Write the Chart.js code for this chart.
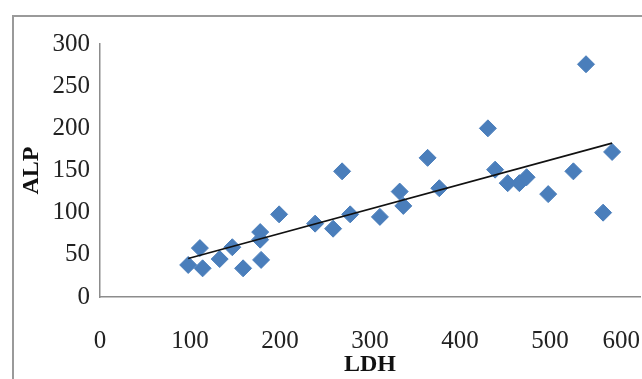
<!DOCTYPE html>
<html>
<head>
<meta charset="utf-8">
<script src="https://cdn.jsdelivr.net/npm/chart.js@4"></script>
<style>
  html, body { margin: 0; padding: 0; background: #fff; }
  #wrap { width: 642px; height: 379px; }
</style>
</head>
<body>
<div id="wrap"><canvas id="graph-ldh-alp" width="642" height="379"></canvas></div>
<script>
const ldh = [98, 111, 114, 133, 147, 159, 178, 178, 179, 199, 239, 259, 269, 278,
             311, 333, 337, 364, 377, 431, 439, 453, 466, 474, 498, 526, 540, 559, 569];
const alp = [38, 58, 34, 45, 59, 34, 77, 68, 44, 98, 87, 81, 149, 98,
             95, 125, 108, 165, 129, 200, 151, 135, 135, 142, 122, 149, 276, 100, 172];
const xTicks = [0, 100, 200, 300, 400, 500, 600];
const yTicks = [0, 50, 100, 150, 200, 250, 300];

const points = ldh.map((x, i) => ({ x: x, y: alp[i] }));

// droite des moindres carrés (courbe de tendance)
const n = ldh.length;
const mx = ldh.reduce((a, b) => a + b, 0) / n;
const my = alp.reduce((a, b) => a + b, 0) / n;
let sxy = 0, sxx = 0;
ldh.forEach((x, i) => { sxy += (x - mx) * (alp[i] - my); sxx += (x - mx) * (x - mx); });
const slope = sxy / sxx;
const icpt = my - slope * mx;
const xMin = Math.min(...ldh), xMax = Math.max(...ldh);
const trend = [{ x: xMin, y: icpt + slope * xMin }, { x: xMax, y: icpt + slope * xMax }];

const frame = {
    id: 'frame',
    beforeDraw(chart) {
        const ctx = chart.ctx;
        ctx.save();
        ctx.strokeStyle = '#9a9a9a';
        ctx.lineWidth = 2;
        ctx.strokeRect(13, 16, 700, 500);
        ctx.restore();
        // dernier libellé (600) calé sur le bord droit, comme Excel
        const items = chart.scales.x.getLabelItems();
        const last = items[items.length - 1];
        if (last && last.options.textAlign !== 'right') {
            last.options.textAlign = 'right';
            last.options.translation[0] = chart.chartArea.right;
        }
    }
};

const serif = "'Liberation Serif', 'Times New Roman', serif";

new Chart(document.getElementById('graph-ldh-alp').getContext('2d'), {
    type: 'scatter',
    data: {
        datasets: [{
            label: 'ALP',
            data: points,
            pointStyle: 'rectRot',
            pointRadius: 8.5,
            backgroundColor: '#4a7ebb',
            borderColor: '#4a7ebb',
            borderWidth: 1,
            order: 2
        }, {
            type: 'line',
            label: 'Tendance',
            data: trend,
            borderColor: '#111',
            borderWidth: 1.6,
            pointRadius: 0,
            fill: false,
            order: 1
        }]
    },
    options: {
        responsive: false,
        animation: false,
        events: [],
        layout: { autoPadding: false, padding: { left: 0, top: 44, right: 2, bottom: 0 } },
        plugins: {
            legend: { display: false },
            tooltip: { enabled: false }
        },
        scales: {
            x: {
                type: 'linear',
                min: 0,
                max: 600,
                afterBuildTicks: (s) => { s.ticks = xTicks.map(v => ({ value: v })); },
                grid: { display: false, drawTicks: false },
                border: { display: true, color: '#8c8c8c', width: 1.5 },
                ticks: { padding: 29, color: '#222', font: { family: serif, size: 25 } },
                title: {
                    display: true, text: 'LDH', color: '#111',
                    font: { family: serif, size: 24, weight: 'bold' },
                    padding: { top: 0, bottom: 0 }
                },
                afterFit: (s) => { s.height = 82; s.paddingRight = 0; s.paddingLeft = 0; }
            },
            y: {
                min: 0,
                max: 300,
                afterBuildTicks: (s) => { s.ticks = yTicks.map(v => ({ value: v })); },
                grid: { display: false, drawTicks: false },
                border: { display: true, color: '#8c8c8c', width: 1.5 },
                ticks: { padding: 10, color: '#222', font: { family: serif, size: 25 } },
                title: {
                    display: true, text: 'ALP', color: '#111',
                    font: { family: serif, size: 24, weight: 'bold' },
                    padding: { top: 17, bottom: 0 }
                },
                afterFit: (s) => { s.width = 100; s.paddingTop = 0; s.paddingBottom = 0; }
            }
        }
    },
    plugins: [frame]
});
</script>
</body>
</html>
